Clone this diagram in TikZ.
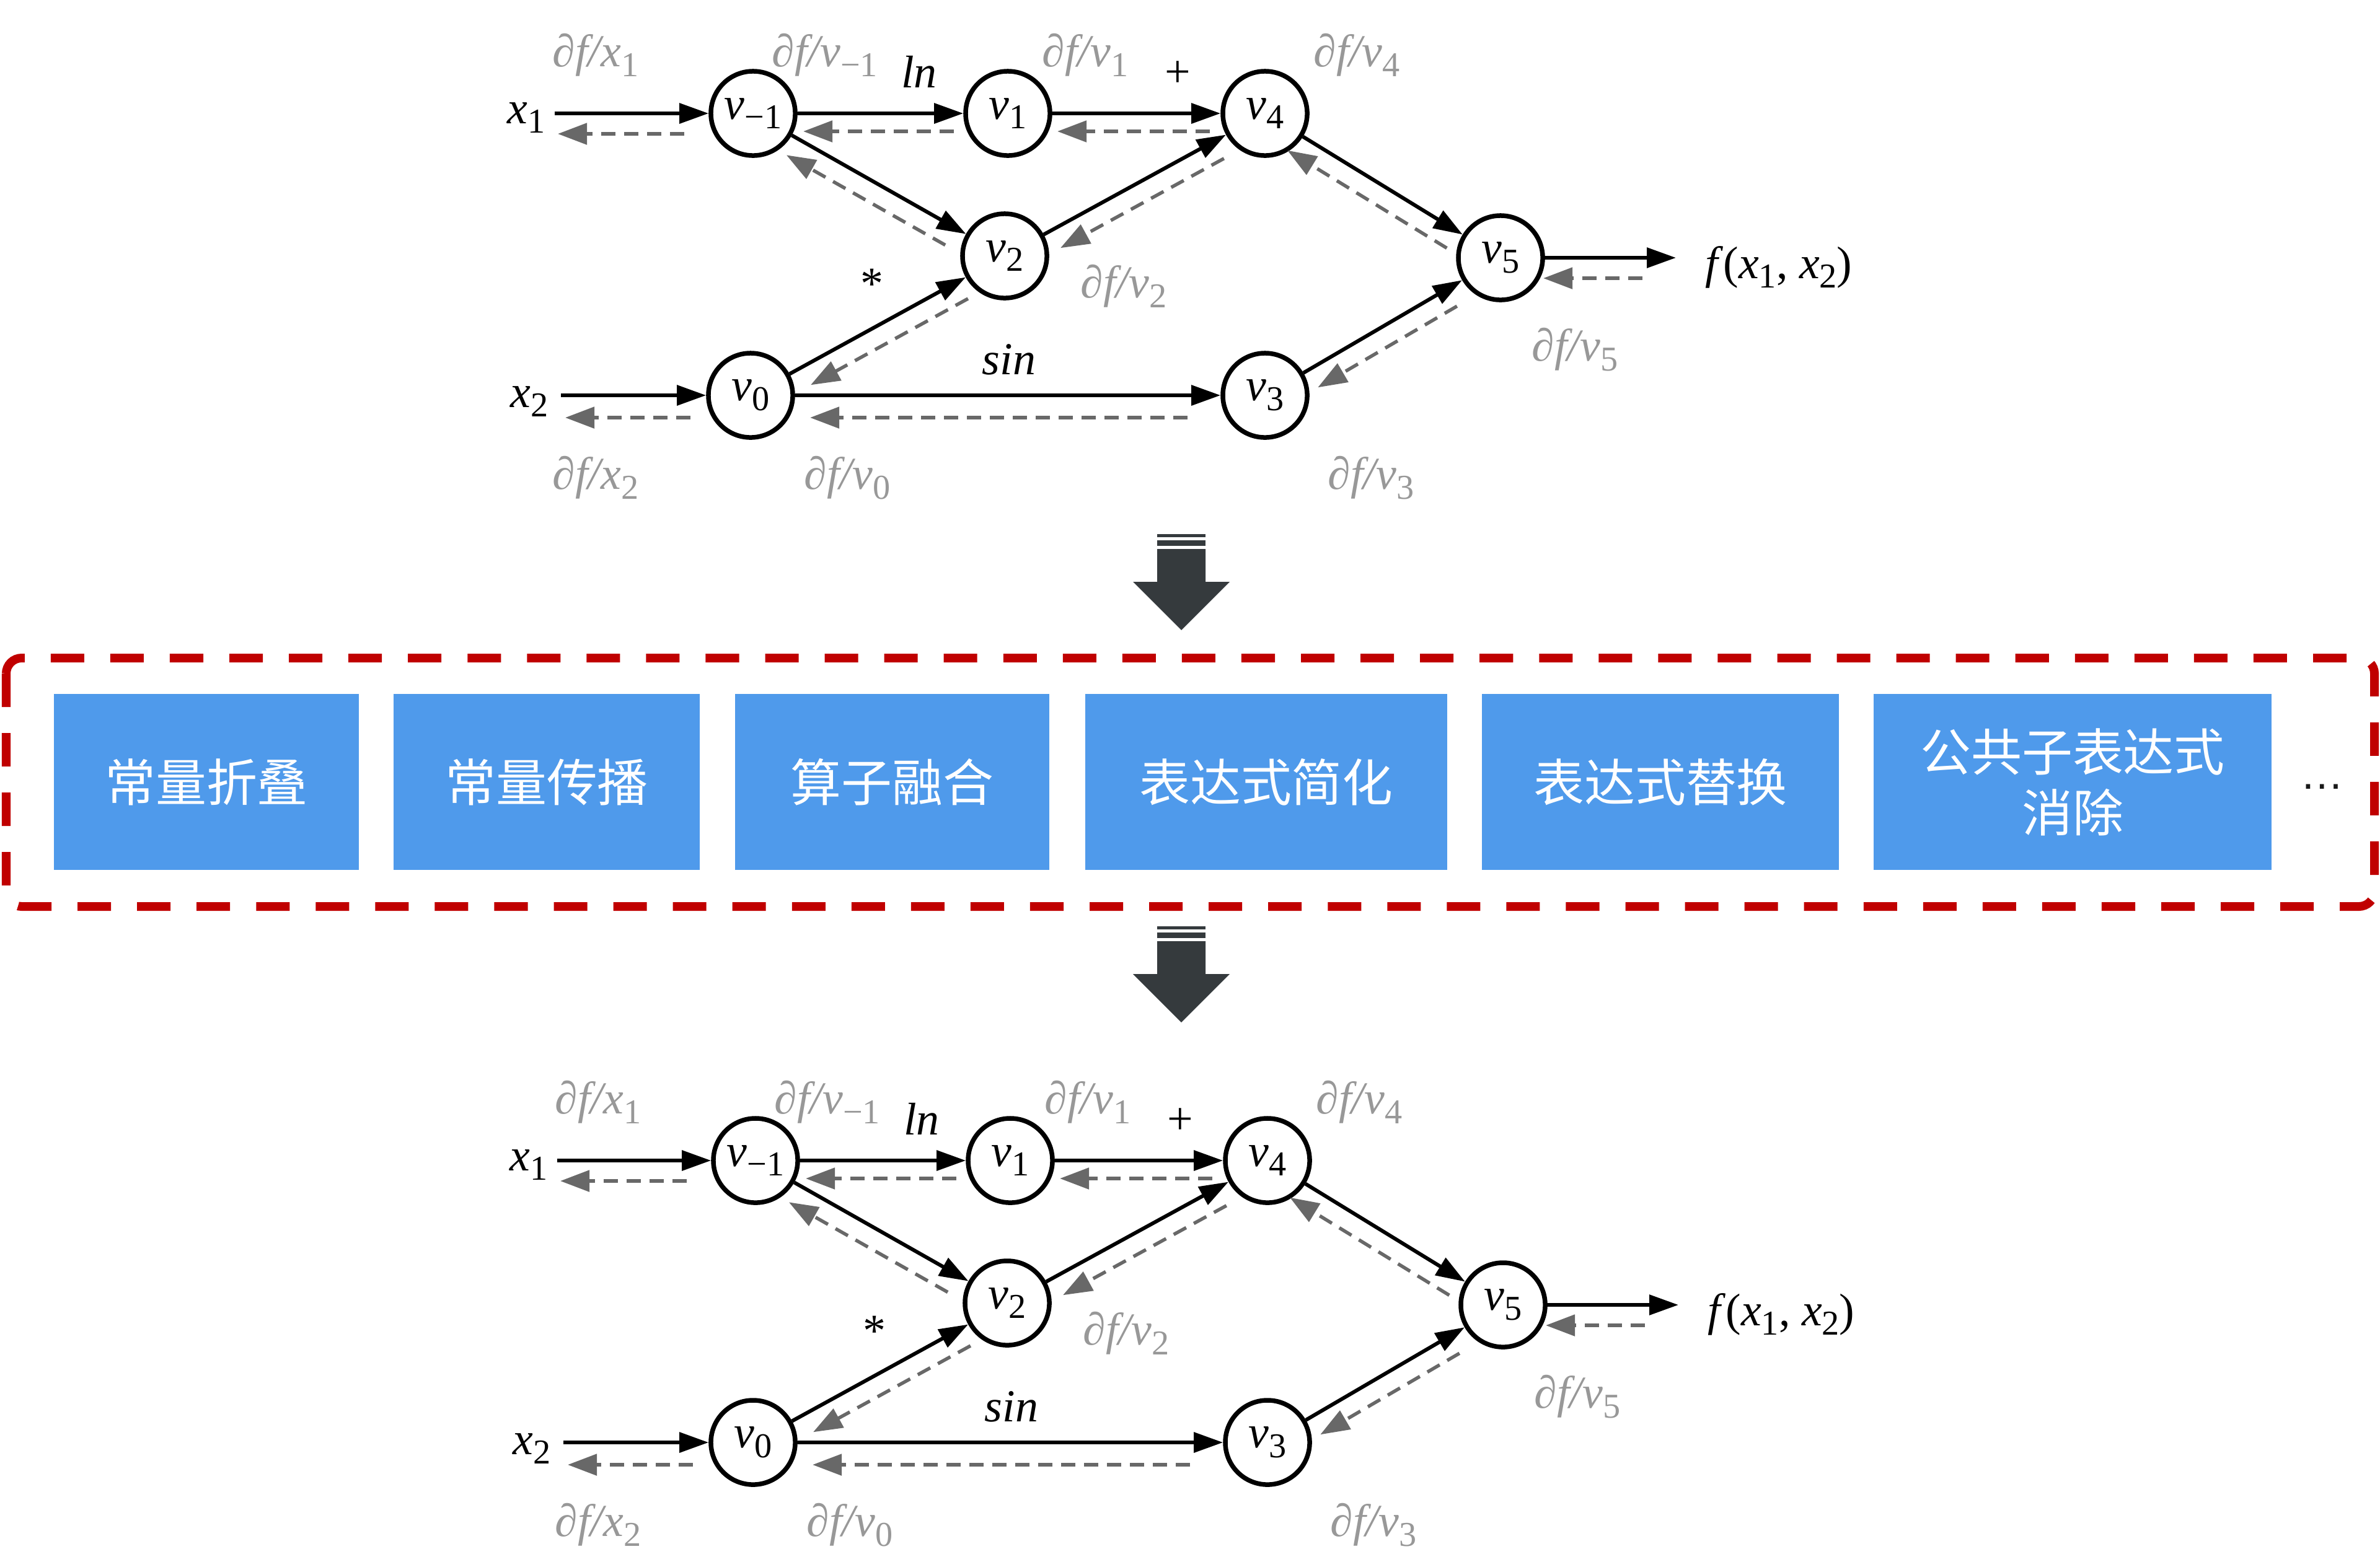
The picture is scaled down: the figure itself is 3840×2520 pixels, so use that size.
\documentclass[tikz,border=0pt]{standalone}
\usepackage{fontspec}
\setmainfont{Liberation Serif}
\setsansfont{Liberation Sans}
\newfontfamily\cjkfam{Noto Sans CJK SC}
\usetikzlibrary{arrows.meta,calc}
\definecolor{boxblue}{RGB}{79,154,235}
\definecolor{lblgray}{RGB}{152,152,152}
\definecolor{backgray}{RGB}{104,104,104}
\definecolor{dashred}{RGB}{192,0,0}
\definecolor{arrowdark}{RGB}{53,58,61}
\newcommand\lblsize{\fontsize{21}{25}\selectfont}
\newcommand\cjksize{\cjkfam\fontsize{23.3}{27.9}\selectfont}
\newcommand\sbs[1]{\raisebox{-0.21em}{\fontsize{16}{19}\selectfont\upshape #1}}
\newcommand\iv[1]{\textit{v}\sbs{#1}}
\newcommand\pd[2]{\textit{∂f/#1}\sbs{#2}}
\tikzset{
  vnode/.style={circle, draw=black, line width=0.075cm, fill=white, minimum size=1.36cm, inner sep=0pt, font=\lblsize},
  fwd/.style={line width=0.06cm, -{Triangle[length=0.47cm, width=0.32cm]}},
  back/.style={line width=0.055cm, draw=backgray, dash pattern=on 0.23cm off 0.14cm, -{Triangle[length=0.47cm, width=0.34cm, fill=backgray]}},
  glbl/.style={text=lblgray, font=\lblsize, inner sep=0pt},
  blbl/.style={text=black, font=\lblsize, inner sep=0pt},
  pbox/.style={fill=boxblue, text=white, font=\cjksize, minimum height=2.84cm, inner sep=0pt, align=center},
  bigarr/.style={fill=arrowdark},
  reddash/.style={draw=dashred, line width=0.14cm, dash pattern=on 0.54cm off 0.42cm, rounded corners=0.25cm}
}
% dashed backward arrow: forward A (#2) -> B (#3); drawn from B to A, offset to the right
\newcommand\bk[5][0.32cm]{\draw[back, shorten <=#4, shorten >=#5] ($(#3)!#1!90:(#2)$) -- ($(#2)!#1!-90:(#3)$);}
\newcommand\drawgraph[1]{%
  \node[vnode] (#1vm1) at (1215,183) {\iv{−1}};
  \node[vnode] (#1v1) at (1626,183) {\iv{1}};
  \node[vnode] (#1v4) at (2041,183) {\iv{4}};
  \node[vnode] (#1v2) at (1621,413) {\iv{2}};
  \node[vnode] (#1v0) at (1211,638) {\iv{0}};
  \node[vnode] (#1v3) at (2041,638) {\iv{3}};
  \node[vnode] (#1v5) at (2421,416) {\iv{5}};
  \node[blbl] (#1x1) at (849,190) {\textit{x}\sbs{1}};
  \node[blbl] (#1x2) at (854,648) {\textit{x}\sbs{2}};
  \node[blbl] (#1f) at (2870,431) {\textit{f}(\textit{x}\sbs{1}, \textit{x}\sbs{2})};
  \coordinate (#1xs1) at (895,183);
  \coordinate (#1xs2) at (905,638);
  \coordinate (#1fe) at (2704,416);
  % labels
  \node[glbl] (#1dx1) at (961,89) {\pd{x}{1}};
  \node[glbl] (#1dvm1) at (1331,89) {\pd{v}{−1}};
  \node[glbl] (#1dv1) at (1751,89) {\pd{v}{1}};
  \node[glbl] (#1dv4) at (2189,89) {\pd{v}{4}};
  \node[glbl] (#1dv2) at (1813,462) {\pd{v}{2}};
  \node[glbl] (#1dv5) at (2541,564) {\pd{v}{5}};
  \node[glbl] (#1dx2) at (961,771) {\pd{x}{2}};
  \node[glbl] (#1dv0) at (1367,771) {\pd{v}{0}};
  \node[glbl] (#1dv3) at (2212,771) {\pd{v}{3}};
  \node[blbl] (#1ln) at (1483,116) {\textit{ln}};
  \node[blbl] (#1plus) at (1900,120) {+};
  \node[blbl] (#1star) at (1407,458) {*};
  \node[blbl] (#1sin) at (1628,580) {\textit{sin}};
  % forward connectors
  \draw[fwd] (#1xs1) -- (#1vm1);
  \draw[fwd] (#1xs2) -- (#1v0);
  \draw[fwd] (#1vm1) -- (#1v1);
  \draw[fwd] (#1v1) -- (#1v4);
  \draw[fwd] (#1vm1) -- (#1v2);
  \draw[fwd] (#1v2) -- (#1v4);
  \draw[fwd] (#1v0) -- (#1v2);
  \draw[fwd] (#1v0) -- (#1v3);
  \draw[fwd] (#1v4) -- (#1v5);
  \draw[fwd] (#1v3) -- (#1v5);
  \draw[fwd] (#1v5) -- (#1fe);
  % backward (gradient) connectors
  \bk[0.33cm]{#1xs1}{#1vm1}{1.11cm}{0.05cm}
  \bk[0.36cm]{#1xs2}{#1v0}{0.97cm}{0.07cm}
  \bk[0.29cm]{#1vm1}{#1v1}{0.87cm}{0.81cm}
  \bk[0.29cm]{#1v1}{#1v4}{0.89cm}{0.80cm}
  \bk{#1vm1}{#1v2}{0.92cm}{0.80cm}
  \bk{#1v2}{#1v4}{0.93cm}{0.85cm}
  \bk{#1v0}{#1v2}{0.85cm}{0.93cm}
  \bk[0.36cm]{#1v0}{#1v3}{1.25cm}{0.96cm}
  \bk{#1v4}{#1v5}{0.82cm}{0.62cm}
  \bk{#1v3}{#1v5}{1.00cm}{0.80cm}
  \bk[0.33cm]{#1v5}{#1fe}{0.54cm}{0.69cm}
}
\newcommand\drawbigarrow{%
  \fill[bigarr] (1867,862) rectangle (1945,867);
  \fill[bigarr] (1867,872) rectangle (1945,881);
  \fill[bigarr] (1867,886) -- (1945,886) -- (1945,939) -- (1984,939) -- (1906,1017) -- (1828,939) -- (1867,939) -- cycle;
}
\begin{document}
\begin{tikzpicture}[x=0.01cm, y=-0.01cm]
\useasboundingbox (0,0) rectangle (3840,2520);
% top graph
\drawgraph{a}
% arrows
\drawbigarrow
\begin{scope}[shift={(0,633)}]
\drawbigarrow
\end{scope}
% pass box
\draw[reddash] (10,1062) rectangle (3831,1463);
\node[pbox, minimum width=4.92cm] (p1) at (333,1262) {常量折叠};
\node[pbox, minimum width=4.94cm] (p2) at (882,1262) {常量传播};
\node[pbox, minimum width=5.07cm] (p3) at (1439.5,1262) {算子融合};
\node[pbox, minimum width=5.84cm] (p4) at (2043,1262) {表达式简化};
\node[pbox, minimum width=5.76cm] (p5) at (2679,1262) {表达式替换};
\node[pbox, minimum width=6.42cm] (p6) at (3344,1262) {公共子表达式\\消除};
\node[anchor=base, font=\sffamily\fontsize{20}{24}\selectfont, text=black!90, inner sep=0pt] (dots) at (3747,1273) {…};
% bottom graph
\begin{scope}[shift={(4,1690)}]
\drawgraph{b}
\end{scope}
\end{tikzpicture}
\end{document}
